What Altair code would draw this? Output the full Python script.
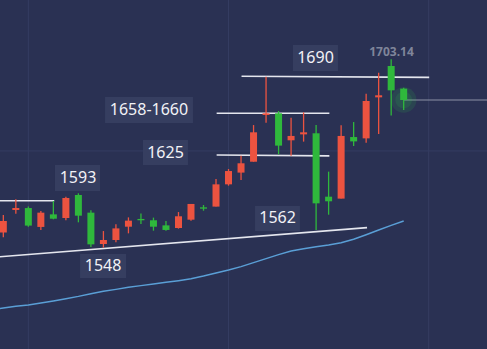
import altair as alt
import pandas as pd

# ---- data ----
opens  = [1560.1, 1578.6, 1580.2, 1564.6, 1575.0, 1572.0, 1591.0, 1576.4, 1550.5, 1553.8,
          1564.8, 1571.2, 1570.1, 1565.9, 1563.7, 1570.6, 1580.8, 1581.4, 1599.8, 1609.5,
          1618.5, 1657.1, 1658.5, 1636.2, 1641.1, 1642.0, 1589.6, 1588.0, 1638.9, 1637.8,
          1671.7, 1697.6, 1678.9]
highs  = [1574.5, 1587.4, 1581.4, 1577.8, 1586.0, 1589.5, 1592.4, 1578.3, 1561.2, 1566.8,
          1572.5, 1575.8, 1572.3, 1569.5, 1576.9, 1583.6, 1582.7, 1604.2, 1612.5, 1623.5,
          1648.8, 1688.8, 1660.4, 1654.9, 1659.3, 1648.8, 1610.3, 1648.6, 1651.3, 1674.7,
          1692.1, 1703.1, 1679.7]
lows   = [1556.0, 1575.6, 1564.8, 1562.1, 1570.9, 1570.1, 1568.4, 1548.0, 1547.5, 1551.9,
          1559.3, 1567.0, 1561.5, 1561.5, 1563.2, 1569.8, 1578.0, 1581.4, 1598.7, 1603.4,
          1618.5, 1650.8, 1624.6, 1623.5, 1635.1, 1562.1, 1574.7, 1588.0, 1631.5, 1634.2,
          1641.4, 1656.6, 1661.2]
closes = [1569.5, 1580.2, 1565.7, 1576.4, 1571.4, 1588.5, 1573.9, 1550.2, 1553.8, 1563.4,
          1569.8, 1570.1, 1564.8, 1562.1, 1573.4, 1583.6, 1579.7, 1599.8, 1610.8, 1617.2,
          1642.8, 1658.5, 1631.8, 1639.8, 1642.8, 1584.1, 1585.8, 1639.8, 1635.3, 1668.7,
          1673.4, 1677.5, 1669.5]

ma_idx = list(range(-1, 33))
ma_vals = [1496.0, 1497.6, 1499.0, 1500.1, 1501.7, 1503.4, 1505.3, 1507.2, 1509.4, 1511.4,
           1513.0, 1514.7, 1516.1, 1517.4, 1518.8, 1520.2, 1521.8, 1524.0, 1526.5, 1529.0,
           1531.8, 1535.1, 1538.4, 1541.7, 1544.7, 1546.6, 1548.3, 1549.7, 1551.6, 1554.4,
           1558.2, 1562.1, 1565.9, 1569.5]

# white level / trend lines: (x start, price start, x end, price end)
seg_x1 = [-0.27, -0.27, 17.05, 17.05, 19.04]
seg_y1 = [1540.0, 1586.3, 1658.5, 1624.0, 1689.1]
seg_x2 = [29.07, 4.07, 26.06, 26.06, 34.04]
seg_y2 = [1564.0, 1586.3, 1658.5, 1623.3, 1688.2]

# current price line
cur_x1 = [32.0]
cur_x2 = [40.0]
cur_y = [1669.5]

labels = ["1593", "1658-1660", "1625", "1690", "1562", "1548"]
lab_x = [5.97, 11.64, 12.96, 24.95, 21.92, 7.97]
lab_y = [1605.0, 1661.3, 1626.1, 1704.2, 1571.6, 1532.3]
box_x1 = [4.13, 8.13, 11.16, 23.15, 20.12, 6.13]
box_x2 = [7.73, 15.16, 14.76, 26.75, 23.71, 9.81]
box_y1 = [1615.8, 1672.0, 1636.4, 1714.9, 1581.9, 1542.2]
box_y2 = [1594.3, 1650.5, 1615.8, 1693.5, 1561.2, 1522.4]

high_label = "1703.14"
high_x = [31.03]
high_y = [1709.2]

grid_x = [2, 18, 34]
grid_y = [1627.4]

# ---- tables ----
n = len(opens)
candles = pd.DataFrame({
    "i": list(range(n)), "open": opens, "high": highs, "low": lows, "close": closes,
})
candles["dir"] = ["up" if c >= o else "down" for o, c in zip(opens, closes)]
ma = pd.DataFrame({"i": ma_idx, "ma": ma_vals})
segs = pd.DataFrame({"x1": seg_x1, "y1": seg_y1, "x2": seg_x2, "y2": seg_y2})
cur = pd.DataFrame({"x1": cur_x1, "x2": cur_x2, "y": cur_y})
labs = pd.DataFrame({"t": labels, "x": lab_x, "y": lab_y,
                     "bx1": box_x1, "bx2": box_x2, "by1": box_y1, "by2": box_y2})
hl = pd.DataFrame({"t": [high_label], "x": high_x, "y": high_y})
gx = pd.DataFrame({"x": grid_x})
gy = pd.DataFrame({"y": grid_y})
last = candles.iloc[[-1]]

xs = alt.Scale(domain=[-0.266, 38.66], nice=False, zero=False, padding=0)
ys = alt.Scale(domain=[1463.72, 1752.15], nice=False, zero=False, padding=0)
X = lambda f: alt.X(f, type="quantitative", scale=xs, axis=None)
Y = lambda f: alt.Y(f, type="quantitative", scale=ys, axis=None)
col = alt.Color("dir:N", scale=alt.Scale(domain=["up", "down"], range=["#ec5340", "#2fb83c"]), legend=None)

grid_v = alt.Chart(gx).mark_rule(color="#353d62", strokeWidth=1).encode(
    x=X("x"), y=alt.value(0), y2=alt.value(349))
grid_h = alt.Chart(gy).mark_rule(color="#353d62", strokeWidth=1).encode(
    y=Y("y"), x=alt.value(0), x2=alt.value(487))

ma_line = alt.Chart(ma).mark_line(color="#5a9fd6", strokeWidth=1.5, clip=True).encode(
    x=X("i"), y=Y("ma"))

lines = alt.Chart(segs).mark_rule(clip=True, color="#e4e6ee", strokeWidth=1.6).encode(
    x=X("x1"), y=Y("y1"), x2="x2", y2="y2")
cur_line = alt.Chart(cur).mark_rule(clip=True, color="#8c92a6", strokeWidth=1).encode(
    x=X("x1"), x2="x2", y=Y("y"))

glow = alt.Chart(last).mark_point(filled=True, shape="circle", opacity=0.12, color="#2fd84a", size=650).encode(
    x=X("i"), y=Y("close"))
glow2 = alt.Chart(last).mark_point(filled=True, shape="circle", opacity=0.12, color="#2fd84a", size=280).encode(
    x=X("i"), y=Y("close"))

wicks = alt.Chart(candles).mark_rule(strokeWidth=1.3).encode(
    x=X("i"), y=Y("low"), y2="high", color=col)
bodies = alt.Chart(candles).mark_bar(size=7).encode(
    x=X("i"), y=Y("open"), y2="close", color=col)

boxes = alt.Chart(labs).mark_rect(color="#363e60").encode(
    x=X("bx1"), x2="bx2", y=Y("by1"), y2="by2")
texts = alt.Chart(labs).mark_text(font="Noto Sans", fontSize=16, color="#f2f2f6",
                                  baseline="middle", align="center").encode(
    x=X("x"), y=Y("y"), text="t:N")
htext = alt.Chart(hl).mark_text(font="Noto Sans", fontSize=12, fontWeight="bold", color="#7f859a",
                                baseline="middle", align="center").encode(
    x=X("x"), y=Y("y"), text="t:N")

chart = alt.layer(
    grid_v, grid_h, ma_line, lines, cur_line, glow, glow2, wicks, bodies, boxes, texts, htext
).properties(
    width=487, height=349, background="#2a3153", padding=0,
    autosize=alt.AutoSizeParams(type="none"),
).configure_view(stroke=None, fill="#2a3153")

chart.save("out.html", embed_options={"renderer": "svg", "actions": False})
